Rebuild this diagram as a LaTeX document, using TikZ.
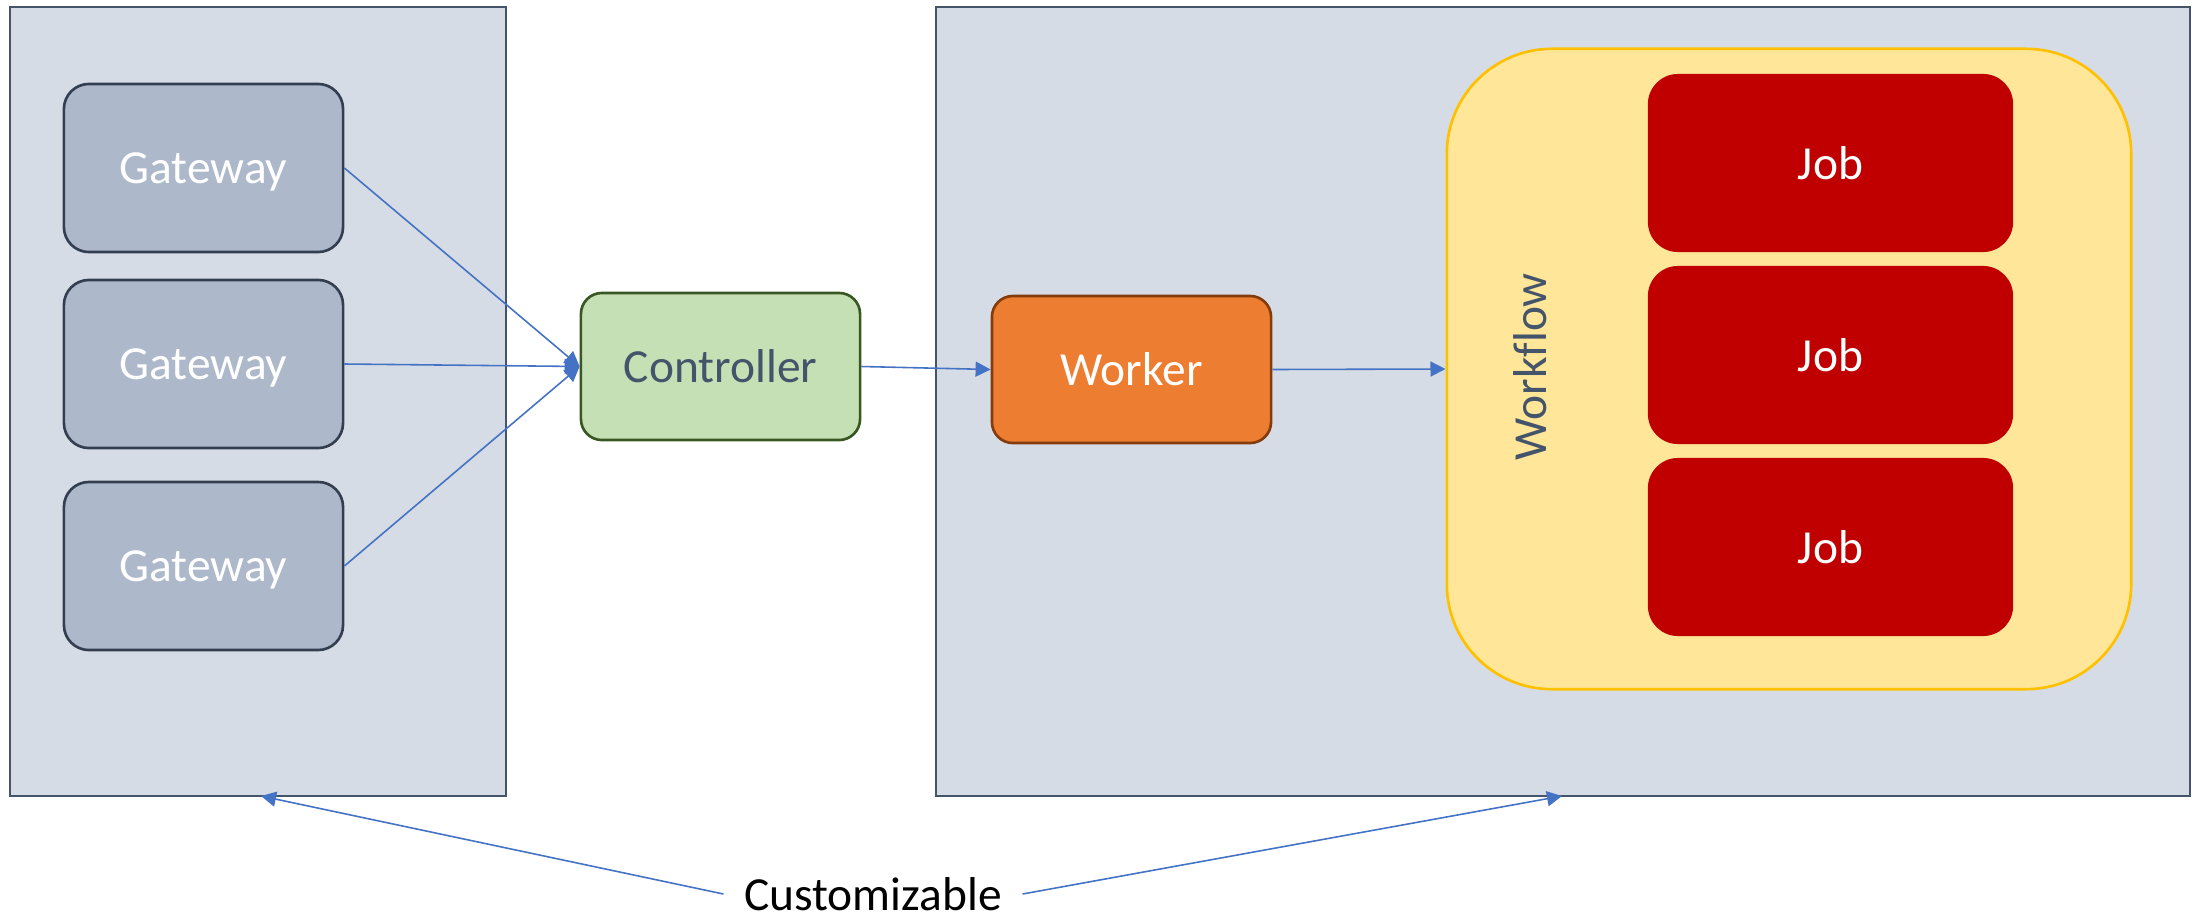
\documentclass[tikz,border=0pt]{standalone}
\usepackage{fontspec}
\setmainfont{Carlito}[Ligatures=CommonOff]
\usetikzlibrary{arrows.meta}

\definecolor{panelFill}{HTML}{D6DCE5}
\definecolor{panelLine}{HTML}{44546A}
\definecolor{gatewayFill}{HTML}{ADB9CA}
\definecolor{gatewayLine}{HTML}{333F50}
\definecolor{controllerFill}{HTML}{C5E0B4}
\definecolor{controllerLine}{HTML}{385723}
\definecolor{workerFill}{HTML}{ED7D31}
\definecolor{workerLine}{HTML}{843C0C}
\definecolor{workflowFill}{HTML}{FFE699}
\definecolor{workflowLine}{HTML}{FFC000}
\definecolor{jobFill}{HTML}{C00000}
\definecolor{arrowBlue}{HTML}{4472C4}

\begin{document}
\begin{tikzpicture}[
    x=0.01cm, y=-0.01cm,
    boxWidth/.style={minimum width=2.79cm},
    panel/.style={draw=panelLine, fill=panelFill, line width=0.6pt, minimum height=7.89cm},
    gateway/.style={boxWidth, minimum height=1.68cm, draw=gatewayLine, fill=gatewayFill, line width=0.75pt, rounded corners=0.25cm, text=white, text depth=0pt},
    controller/.style={boxWidth, minimum height=1.47cm, draw=controllerLine, fill=controllerFill, line width=0.75pt, rounded corners=0.21cm, text=panelLine},
    worker/.style={boxWidth, minimum height=1.47cm, draw=workerLine, fill=workerFill, line width=0.75pt, rounded corners=0.21cm, text=white},
    job/.style={minimum width=3.65cm, minimum height=1.78cm, fill=jobFill, rounded corners=0.3cm, text=white},
    flow/.style={->, >={Triangle[length=0.15cm, width=0.15cm]}, draw=arrowBlue, line width=0.45pt},
    every node/.style={
        text centered,
        font=\fontsize{13.5}{16}\selectfont
        }
        ]
    \useasboundingbox (0, 0) rectangle (2197, 918);

    \node[panel, minimum width=4.96cm] (leftPanel) at (258, 401.5) {};
    \node[panel, minimum width=12.54cm] (rightPanel) at (1563, 401.5) {};

    \node[gateway] (gateway1) at (203.5, 168) {Gateway};
    \node[gateway] (gateway2) at (203.5, 364) {Gateway};
    \node[gateway] (gateway3) at (203.5, 566) {Gateway};

    \node[controller] (controller) at (720.5, 366.5) {Controller};
    \node[worker] (worker) at (1131.5, 369.5) {Worker};

    \node[minimum width=6.84cm, minimum height=6.40cm, draw=workflowLine, fill=workflowFill, line width=0.75pt, rounded corners=1.05cm] (workflow) at (1789, 369) {};
    \node[rotate=90, text=panelLine] (workflowLabel) at (1530, 367) {Workflow};

    \node[job] (job1) at (1830.5, 163) {Job};
    \node[job] (job2) at (1830.5, 355) {Job};
    \node[job] (job3) at (1830.5, 547) {Job};

    \node[inner xsep=0.2cm, inner ysep=0.05cm] (custom) at (873, 894) {Customizable};
    \coordinate (leftTip) at (261, 796);
    \coordinate (rightTip) at (1562, 796);

    \draw[flow] (gateway1.east) -- (controller.west);
    \draw[flow] (gateway2.east) -- (controller.west);
    \draw[flow] (gateway3.east) -- (controller.west);
    \draw[flow] (controller.east) -- (worker.west);
    \draw[flow] (worker.east) -- (workflow.west);
    \draw[flow] (custom.west) -- (leftTip);
    \draw[flow] (custom.east) -- (rightTip);
\end{tikzpicture}
\end{document}
